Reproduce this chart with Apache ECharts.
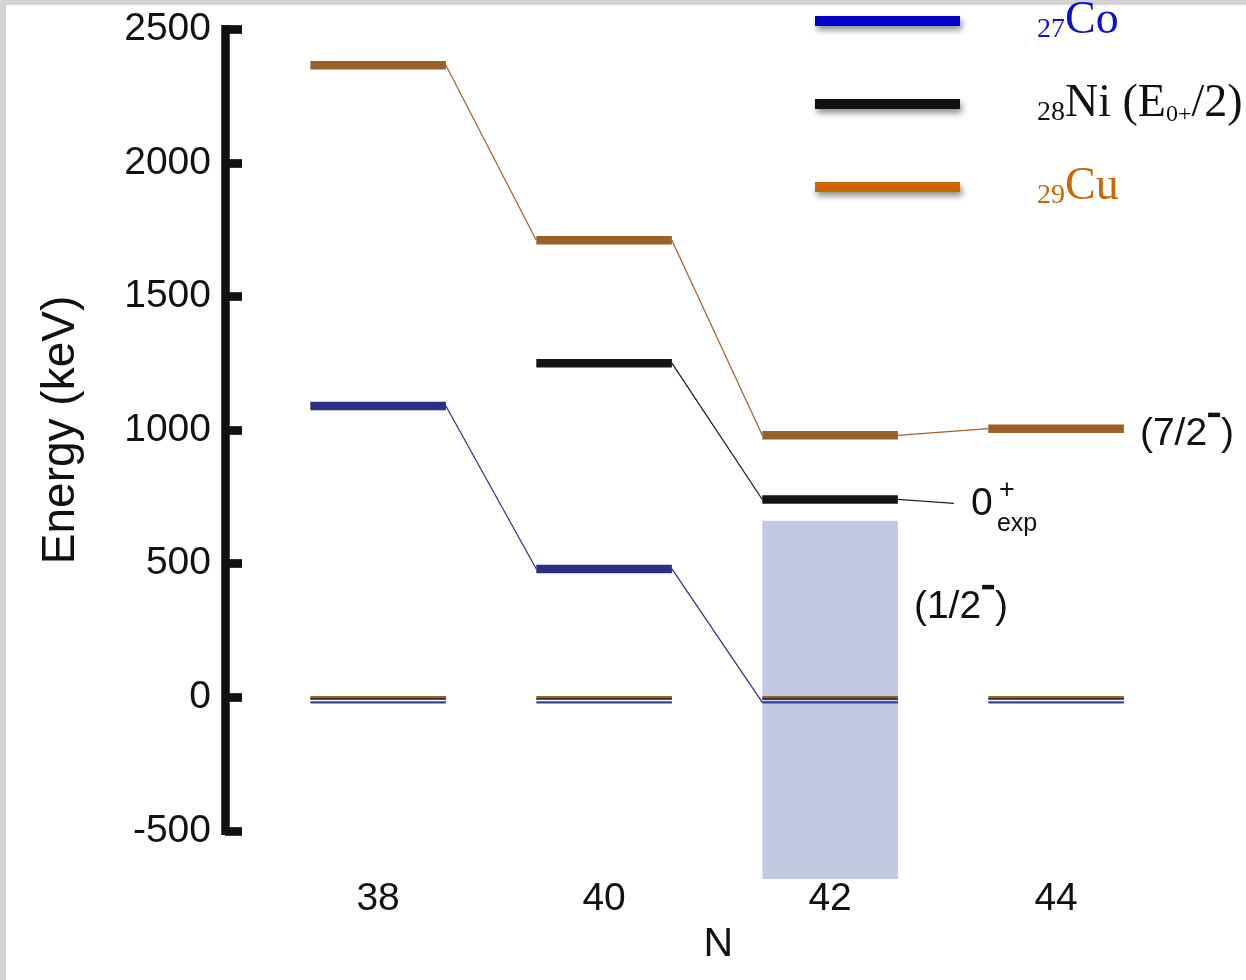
<!DOCTYPE html>
<html>
<head>
<meta charset="utf-8">
<script src="https://cdn.jsdelivr.net/npm/echarts@6/dist/echarts.min.js"></script>
<style>
  html, body { margin: 0; padding: 0; background: #ffffff; }
  #chart { width: 1246px; height: 980px; }
</style>
</head>
<body>
<div id="chart"></div>
<script>
// Level energies (keV) versus neutron number N
const neutronNumbers = [38, 40, 42, 44];
const cuLevels = [2365, 1710, 980, 1005];
const niLevels = [null, 1250, 740, null];     // E(0+)/2
const coLevels = [1090, 480, 0, null];
const groundStates = [0, 0, 0, 0];
const coBand = [42, -680, 660];               // N, lower, upper (keV)
const energyTicks = [-500, 0, 500, 1000, 1500, 2000, 2500];
const legendNames = ['Co', 'Ni', 'Cu'];
// spin-parity labels: [before, superscript sign, after]
const cuStateLabel = ['(7/2', '-', ')'];
const bandStateLabel = ['(1/2', '-', ')'];
const niStateLabel = ['0', '+', 'exp'];

const HALF_WIDTH = 0.6;
const LEVEL_THICK = 8.5;
const LABEL_SIZE = 39;
const SANS = '"Liberation Sans", Arial, Helvetica, sans-serif';
const SERIF = '"Liberation Serif", "Times New Roman", serif';

const styles = {
  Co: { level: '#2b2e84', legend: '#0000c8', ground: '#39409a', groundOffset: 5.2, groundThick: 2.2 },
  Ni: { level: '#141414', legend: '#111111', ground: '#2a2520', groundOffset: 1.6, groundThick: 1.9 },
  Cu: { level: '#9a6127', legend: '#cc6600', ground: '#93612f', groundOffset: -0.3, groundThick: 1.9 }
};

const measureCtx = document.createElement('canvas').getContext('2d');
function textWidth(str, size) {
  measureCtx.font = size + 'px ' + SANS;
  return measureCtx.measureText(str).width;
}

// "(J" + raised bar + ")" drawn as text pieces and a small rect
function pushSpinLabel(children, parts, x, yc) {
  const w0 = textWidth(parts[0], LABEL_SIZE);
  const txt = { fontSize: LABEL_SIZE, fontFamily: SANS, fill: '#111', align: 'left', verticalAlign: 'middle' };
  children.push({ type: 'text', x: x, y: yc, style: Object.assign({ text: parts[0] }, txt) });
  if (parts[1] === '-') {
    children.push({ type: 'rect', shape: { x: x + w0 + 1, y: yc - 22, width: 12, height: 4.5 }, style: { fill: '#111' } });
  }
  children.push({ type: 'text', x: x + w0 + 14, y: yc, style: Object.assign({ text: parts[2] }, txt) });
}

function toPoints(levels) {
  return neutronNumbers
    .map((n, i) => (levels[i] == null ? null : [n, levels[i]]))
    .filter(Boolean);
}

function levelSeries(name, levels, extraLabel) {
  const st = styles[name];
  const pts = toPoints(levels);
  const yOf = (api, n, e) => {
    const c = api.coord([n, e]);
    return e === 0 ? c[1] + st.groundOffset : c[1];
  };
  return {
    name: name,
    type: 'custom',
    z: 5,
    clip: false,
    data: pts,
    itemStyle: { color: st.legend },
    renderItem: function (params, api) {
      const i = params.dataIndex;
      const n = api.value(0), e = api.value(1);
      const xl = api.coord([n - HALF_WIDTH, e])[0];
      const xr = api.coord([n + HALF_WIDTH, e])[0];
      const y = yOf(api, n, e);
      const children = [];
      if (e !== 0) {
        children.push({
          type: 'rect',
          shape: { x: xl, y: y - LEVEL_THICK / 2, width: xr - xl, height: LEVEL_THICK },
          style: { fill: st.level }
        });
      }
      const next = pts[i + 1];
      if (next) {
        const nx = api.coord([next[0] - HALF_WIDTH, next[1]])[0];
        const ny = yOf(api, next[0], next[1]);
        children.push({
          type: 'line',
          shape: { x1: xr, y1: y, x2: nx, y2: ny },
          style: { stroke: st.level, lineWidth: 1.2 }
        });
      }
      if (extraLabel) {
        extraLabel(n, xr, y, children);
      }
      return { type: 'group', children: children };
    }
  };
}

function groundSeries(name) {
  const st = styles[name];
  return {
    name: name + ' g.s.',
    type: 'custom',
    z: 4,
    clip: false,
    data: neutronNumbers.map((n, i) => [n, groundStates[i]]),
    renderItem: function (params, api) {
      const n = api.value(0), e = api.value(1);
      const xl = api.coord([n - HALF_WIDTH, e]);
      const xr = api.coord([n + HALF_WIDTH, e]);
      return {
        type: 'rect',
        shape: { x: xl[0], y: xl[1] + st.groundOffset - st.groundThick / 2, width: xr[0] - xl[0], height: st.groundThick },
        style: { fill: st.ground }
      };
    }
  };
}

const cuLabel = function (n, xr, y, children) {
  if (n !== neutronNumbers[3]) return;
  pushSpinLabel(children, cuStateLabel, xr + 16, y + 6);
};

const niLabel = function (n, xr, y, children) {
  if (n !== neutronNumbers[2]) return;
  children.push({ type: 'line', shape: { x1: xr, y1: y, x2: xr + 56, y2: y + 4 }, style: { stroke: '#222', lineWidth: 1.2 } });
  children.push({ type: 'text', x: xr + 73, y: y + 5, style: { text: niStateLabel[0], fontSize: LABEL_SIZE, fontFamily: SANS, fill: '#111', align: 'left', verticalAlign: 'middle' } });
  children.push({ type: 'text', x: xr + 101, y: y - 9, style: { text: niStateLabel[1], fontSize: 27, fontFamily: SANS, fill: '#111', align: 'left', verticalAlign: 'middle' } });
  children.push({ type: 'text', x: xr + 99, y: y + 25, style: { text: niStateLabel[2], fontSize: 25, fontFamily: SANS, fill: '#111', align: 'left', verticalAlign: 'middle' } });
};

const bandSeries = {
  name: 'band',
  type: 'custom',
  z: 2,
  clip: false,
  data: [coBand],
  renderItem: function (params, api) {
    const n = api.value(0);
    const tl = api.coord([n - HALF_WIDTH, api.value(2)]);
    const br = api.coord([n + HALF_WIDTH, api.value(1)]);
    const children = [
      { type: 'rect', shape: { x: tl[0], y: tl[1], width: br[0] - tl[0], height: br[1] - tl[1] }, style: { fill: '#c3c9e3' } }
    ];
    pushSpinLabel(children, bandStateLabel, br[0] + 16, tl[1] + 86);
    return { type: 'group', children: children };
  }
};

const legendRich = {
  g: { width: 72, fontSize: 10 },
  coSub: { fontSize: 28, fontFamily: SERIF, color: '#1010cc', lineHeight: 4, verticalAlign: 'bottom' },
  coEl: { fontSize: 46, fontFamily: SERIF, color: '#1010cc', lineHeight: 46, verticalAlign: 'top' },
  niSub: { fontSize: 28, fontFamily: SERIF, color: '#111', lineHeight: 4, verticalAlign: 'bottom' },
  niEl: { fontSize: 46, fontFamily: SERIF, color: '#111', lineHeight: 46, verticalAlign: 'top' },
  niSub2: { fontSize: 24, fontFamily: SERIF, color: '#111', lineHeight: 8, verticalAlign: 'bottom' },
  cuSub: { fontSize: 28, fontFamily: SERIF, color: '#cc6600', lineHeight: 4, verticalAlign: 'bottom' },
  cuEl: { fontSize: 46, fontFamily: SERIF, color: '#cc6600', lineHeight: 46, verticalAlign: 'top' }
};
const legendText = {
  Co: '{g| }{coSub|27}{coEl|Co}',
  Ni: '{g| }{niSub|28}{niEl|Ni (E}{niSub2|0+}{niEl|/2)}',
  Cu: '{g| }{cuSub|29}{cuEl|Cu}'
};

const chart = echarts.init(document.getElementById('chart'), null, { renderer: 'canvas' });
chart.setOption({
  backgroundColor: '#ffffff',
  animation: false,
  graphic: [
    { type: 'rect', left: 0, top: 0, shape: { width: 1246, height: 5 }, style: { fill: '#d3d3d3' }, z: -1 },
    { type: 'rect', left: 0, top: 0, shape: { width: 6, height: 980 }, style: { fill: '#d3d3d3' }, z: -1 }
  ],
  grid: { left: 225, right: 20.4, top: 29.2, bottom: 149.2, containLabel: false },
  legend: {
    orient: 'vertical',
    left: 810,
    top: -7,
    itemWidth: 145,
    itemHeight: 10,
    itemGap: 37,
    icon: 'rect',
    selectedMode: false,
    formatter: function (name) { return legendText[name]; },
    textStyle: { rich: legendRich },
    data: legendNames.map(function (nm) {
      return {
        name: nm,
        itemStyle: { color: styles[nm].legend, shadowBlur: 6, shadowColor: 'rgba(0,0,0,0.45)', shadowOffsetX: 2, shadowOffsetY: 4 }
      };
    })
  },
  xAxis: {
    type: 'value',
    min: 36.645,
    max: 45.5,
    name: 'N',
    nameLocation: 'middle',
    nameGap: 92,
    nameTextStyle: { fontSize: 41, fontFamily: SANS, color: '#111', padding: [0, 14, 0, 0] },
    axisLine: { show: false, onZero: false },
    axisTick: { show: false },
    splitLine: { show: false },
    axisLabel: { customValues: neutronNumbers, fontSize: 39, fontFamily: SANS, color: '#111', margin: 49 }
  },
  yAxis: {
    type: 'value',
    min: energyTicks[0],
    max: energyTicks[energyTicks.length - 1],
    interval: energyTicks[1] - energyTicks[0],
    name: 'Energy (keV)',
    nameLocation: 'middle',
    nameGap: 141,
    nameTextStyle: { fontSize: 46, fontFamily: SANS, color: '#111' },
    axisLine: { show: true, onZero: false, lineStyle: { color: '#111', width: 8.5, cap: 'square' } },
    axisTick: { show: true, inside: true, length: 17, lineStyle: { color: '#111', width: 8.7 } },
    splitLine: { show: false },
    axisLabel: { fontSize: 39, fontFamily: SANS, color: '#111', margin: 14, formatter: function (v) { return String(v); } }
  },
  series: [
    bandSeries,
    groundSeries('Cu'),
    groundSeries('Ni'),
    groundSeries('Co'),
    levelSeries('Co', coLevels),
    levelSeries('Ni', niLevels, niLabel),
    levelSeries('Cu', cuLevels, cuLabel)
  ]
});
</script>
</body>
</html>
